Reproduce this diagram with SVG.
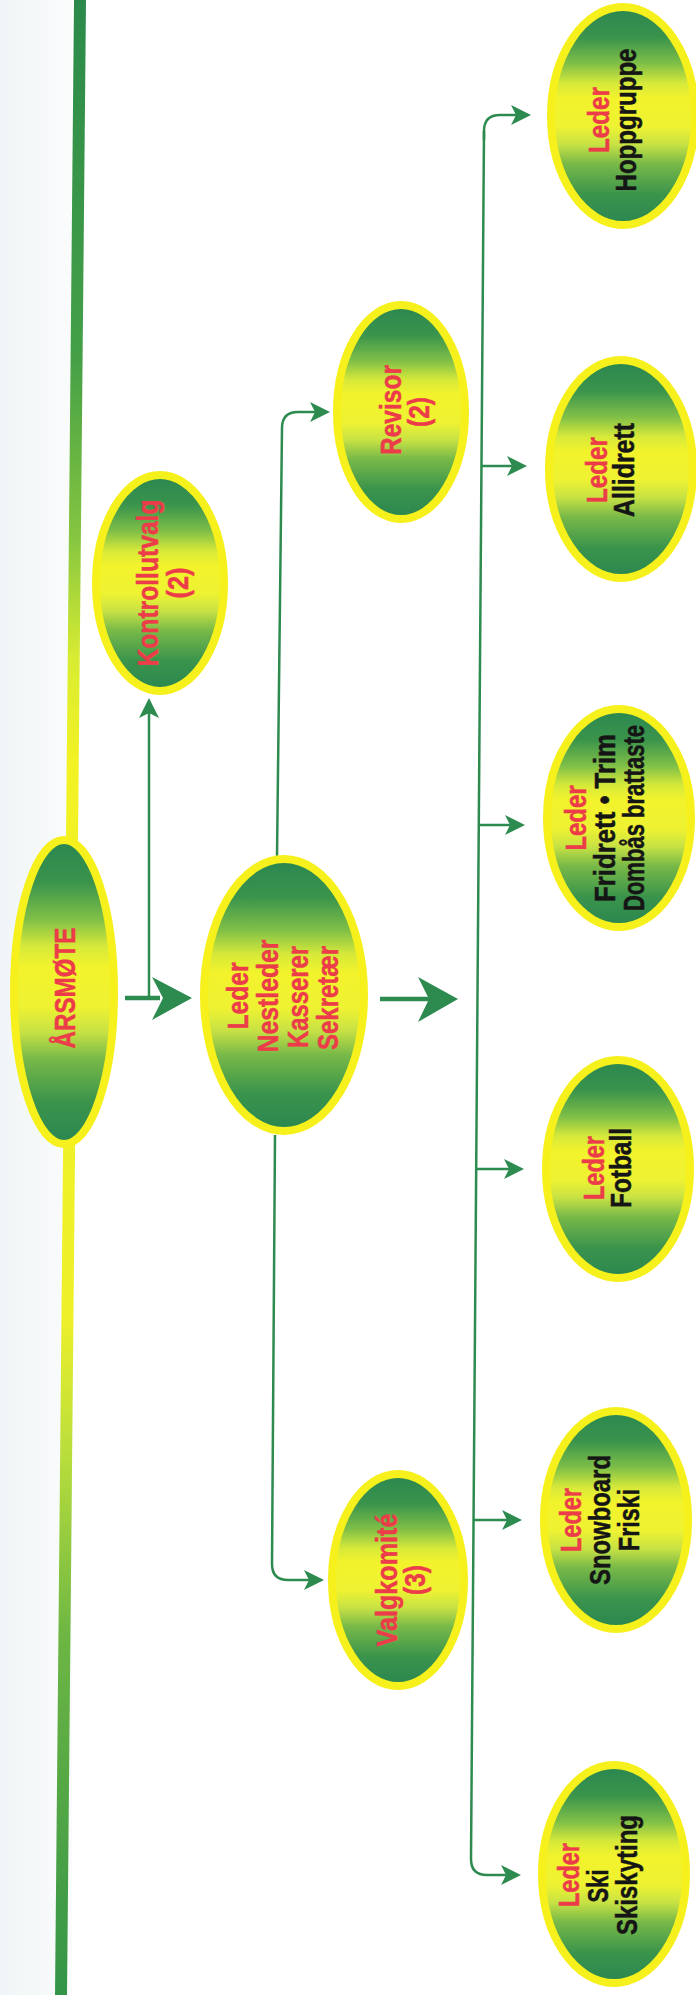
<svg xmlns="http://www.w3.org/2000/svg" width="696" height="1995" viewBox="0 0 696 1995">
<defs>
<style>
.node ellipse{fill:url(#eg);stroke:#f6f01c;stroke-width:8}
.t{font-family:"Liberation Sans Narrow","Liberation Sans","DejaVu Sans Condensed",Arial,sans-serif;font-weight:bold;font-size:29px;text-anchor:middle;stroke-width:0.5}
.r{fill:#ec3b49;stroke:#ec3b49}
.k{fill:#151515;stroke:#151515}
.ln{fill:none;stroke:#2e8b50;stroke-width:2.5;marker-end:url(#ah)}
.thk{fill:none;stroke:#2e8b50;stroke-width:4.5}
.ahd{fill:#2e8b50}
</style>
<linearGradient id="eg" x1="0" y1="0" x2="0" y2="1">
<stop offset="0" stop-color="#2a8650"/>
<stop offset="0.14" stop-color="#3a944c"/>
<stop offset="0.26" stop-color="#7fbf47"/>
<stop offset="0.35" stop-color="#d6e93a"/>
<stop offset="0.42" stop-color="#f3f32c"/>
<stop offset="0.55" stop-color="#eef232"/>
<stop offset="0.63" stop-color="#c8e244"/>
<stop offset="0.72" stop-color="#78b948"/>
<stop offset="0.86" stop-color="#3b944c"/>
<stop offset="1" stop-color="#2a8650"/>
</linearGradient>
<linearGradient id="bar" gradientUnits="userSpaceOnUse" x1="0" y1="0" x2="0" y2="1995">
<stop offset="0" stop-color="#2b8a4b"/>
<stop offset="0.18" stop-color="#45a046"/>
<stop offset="0.27" stop-color="#86c640"/>
<stop offset="0.33" stop-color="#d8ec32"/>
<stop offset="0.38" stop-color="#f2f224"/>
<stop offset="0.66" stop-color="#eef02a"/>
<stop offset="0.73" stop-color="#b8dd3c"/>
<stop offset="0.82" stop-color="#6db643"/>
<stop offset="1" stop-color="#339448"/>
</linearGradient>
<linearGradient id="bg" x1="0" y1="0" x2="1" y2="0">
<stop offset="0" stop-color="#f1f5f7"/>
<stop offset="1" stop-color="#fafcfc"/>
</linearGradient>
<marker id="ah" viewBox="0 0 20 20" refX="14" refY="10" markerWidth="20" markerHeight="20" markerUnits="userSpaceOnUse" orient="auto">
<path d="M0,0 L20,10 L0,20 L5,10 Z" fill="#2e8b50"/>
</marker>
</defs>
<rect x="0" y="0" width="696" height="1995" fill="#ffffff"/>
<rect x="0" y="0" width="72" height="1995" fill="url(#bg)"/>
<path d="M80,0 L61,1995" stroke="url(#bar)" stroke-width="12" fill="none"/>

<g id="connectors">
<path class="thk" d="M125,998 L160,998"/>
<polygon class="ahd" points="192,998 152,977 163,998 152,1020"/>
<path class="ln" d="M149,998 L149,704"/>
<path class="ln" d="M277,857 L282,428 Q282,412 298,412 L324,412"/>
<path class="ln" d="M275,1135 L272,1564 Q272,1580 288,1580 L318,1580"/>
<path class="thk" d="M380,999 L430,999"/>
<polygon class="ahd" points="458,999 418,977 429,999 418,1022"/>
<path class="ln" d="M484,140 L484,131 Q484,115 500,115 L525,115"/>
<path class="ln" d="M484,131 L471,1859 Q471,1875 487,1875 L515,1875"/>
<path class="ln" d="M481.5,466 L521,466"/>
<path class="ln" d="M478.8,825 L519,825"/>
<path class="ln" d="M476.2,1169 L518,1169"/>
<path class="ln" d="M473.6,1520 L516,1520"/>
</g>

<g id="n-arsmote" class="node">
<ellipse cx="64" cy="992" rx="50" ry="152"/>
<text class="t r" transform="translate(75,988) rotate(-90)" textLength="121" lengthAdjust="spacingAndGlyphs">ÅRSMØTE</text>
</g>

<g id="n-kontrollutvalg" class="node">
<ellipse cx="160" cy="583" rx="64" ry="108"/>
<text class="t r" transform="translate(158,583) rotate(-90)" textLength="167" lengthAdjust="spacingAndGlyphs">Kontrollutvalg</text>
<text class="t r" transform="translate(188,583) rotate(-90)" textLength="31" lengthAdjust="spacingAndGlyphs">(2)</text>
</g>

<g id="n-styre" class="node">
<ellipse cx="284" cy="995" rx="80" ry="136"/>
<text class="t r" transform="translate(248,996) rotate(-90)" textLength="67" lengthAdjust="spacingAndGlyphs">Leder</text>
<text class="t r" transform="translate(278,996) rotate(-90)" textLength="113" lengthAdjust="spacingAndGlyphs">Nestleder</text>
<text class="t r" transform="translate(308,997) rotate(-90)" textLength="102" lengthAdjust="spacingAndGlyphs">Kasserer</text>
<text class="t r" transform="translate(338,998) rotate(-90)" textLength="104" lengthAdjust="spacingAndGlyphs">Sekretær</text>
</g>

<g id="n-revisor" class="node">
<ellipse cx="401" cy="412" rx="64" ry="107"/>
<text class="t r" transform="translate(401,410) rotate(-90)" textLength="90" lengthAdjust="spacingAndGlyphs">Revisor</text>
<text class="t r" transform="translate(429,412) rotate(-90)" textLength="30" lengthAdjust="spacingAndGlyphs">(2)</text>
</g>

<g id="n-valgkomite" class="node">
<ellipse cx="398" cy="1580" rx="66" ry="106"/>
<text class="t r" transform="translate(397,1580) rotate(-90)" textLength="133" lengthAdjust="spacingAndGlyphs">Valgkomité</text>
<text class="t r" transform="translate(425,1580) rotate(-90)" textLength="30" lengthAdjust="spacingAndGlyphs">(3)</text>
</g>

<g id="n-hoppgruppe" class="node">
<ellipse cx="623" cy="116" rx="72" ry="109"/>
<text class="t r" transform="translate(609,120) rotate(-90)" textLength="66" lengthAdjust="spacingAndGlyphs">Leder</text>
<text class="t k" transform="translate(636,120) rotate(-90)" textLength="143" lengthAdjust="spacingAndGlyphs">Hoppgruppe</text>
</g>

<g id="n-allidrett" class="node">
<ellipse cx="621" cy="469" rx="72" ry="109"/>
<text class="t r" transform="translate(607,470) rotate(-90)" textLength="66" lengthAdjust="spacingAndGlyphs">Leder</text>
<text class="t k" transform="translate(634,470) rotate(-90)" textLength="94" lengthAdjust="spacingAndGlyphs">Allidrett</text>
</g>

<g id="n-fridrett" class="node">
<ellipse cx="619" cy="818" rx="72" ry="109"/>
<text class="t r" transform="translate(586,818) rotate(-90)" textLength="65" lengthAdjust="spacingAndGlyphs">Leder</text>
<text class="t k" transform="translate(615,818) rotate(-90)" textLength="168" lengthAdjust="spacingAndGlyphs">Fridrett • Trim</text>
<text class="t k" transform="translate(644,818) rotate(-90)" textLength="186" lengthAdjust="spacingAndGlyphs">Dombås brattaste</text>
</g>

<g id="n-fotball" class="node">
<ellipse cx="618" cy="1169" rx="72" ry="109"/>
<text class="t r" transform="translate(604,1168) rotate(-90)" textLength="64" lengthAdjust="spacingAndGlyphs">Leder</text>
<text class="t k" transform="translate(631,1168) rotate(-90)" textLength="80" lengthAdjust="spacingAndGlyphs">Fotball</text>
</g>

<g id="n-snowboard" class="node">
<ellipse cx="616" cy="1520" rx="72" ry="109"/>
<text class="t r" transform="translate(581,1520) rotate(-90)" textLength="64" lengthAdjust="spacingAndGlyphs">Leder</text>
<text class="t k" transform="translate(610,1520) rotate(-90)" textLength="130" lengthAdjust="spacingAndGlyphs">Snowboard</text>
<text class="t k" transform="translate(639,1520) rotate(-90)" textLength="62" lengthAdjust="spacingAndGlyphs">Friski</text>
</g>

<g id="n-ski" class="node">
<ellipse cx="614" cy="1874" rx="72" ry="109"/>
<text class="t r" transform="translate(579,1875) rotate(-90)" textLength="64" lengthAdjust="spacingAndGlyphs">Leder</text>
<text class="t k" transform="translate(608,1886) rotate(-90)" textLength="33" lengthAdjust="spacingAndGlyphs">Ski</text>
<text class="t k" transform="translate(637,1875) rotate(-90)" textLength="120" lengthAdjust="spacingAndGlyphs">Skiskyting</text>
</g>
</svg>
